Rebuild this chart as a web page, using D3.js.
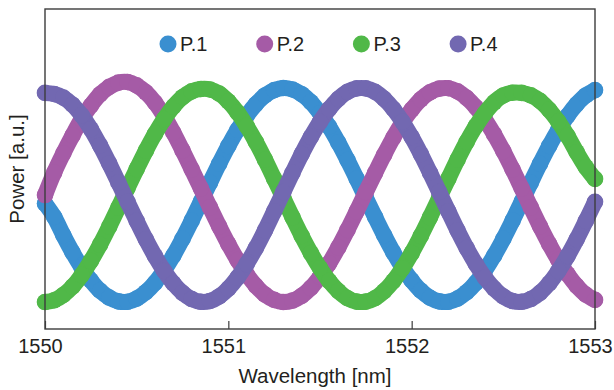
<!DOCTYPE html>
<html>
<head>
<meta charset="utf-8">
<script src="https://cdn.jsdelivr.net/npm/d3@7"></script>
<style>
    body{ margin: 0; background: #fff; }
    text{ font-family: "Liberation Sans", Arial, sans-serif; fill: #231f20; }
</style>
</head>
<body>
<div id="chart"></div>
<script>
const wavelength = [1550.00, 1550.05, 1550.10, 1550.15, 1550.20, 1550.25, 1550.30, 1550.35, 1550.40, 1550.45,
                    1550.50, 1550.55, 1550.60, 1550.65, 1550.70, 1550.75, 1550.80, 1550.85, 1550.90, 1550.95,
                    1551.00, 1551.05, 1551.10, 1551.15, 1551.20, 1551.25, 1551.30, 1551.35, 1551.40, 1551.45,
                    1551.50, 1551.55, 1551.60, 1551.65, 1551.70, 1551.75, 1551.80, 1551.85, 1551.90, 1551.95,
                    1552.00, 1552.05, 1552.10, 1552.15, 1552.20, 1552.25, 1552.30, 1552.35, 1552.40, 1552.45,
                    1552.50, 1552.55, 1552.60, 1552.65, 1552.70, 1552.75, 1552.80, 1552.85, 1552.90, 1552.95,
                    1553.00];

const p1 = [.460, .398, .312, .232, .161, .101, .053, .021, .003, .001, .016, .046, .090, .148, .217, .295, .380, .469, .558, .646,
            .729, .804, .870, .924, .965, .990, 1.000, .993, .971, .934, .882, .819, .745, .663, .576, .486, .398, .312, .232, .161,
            .101, .053, .020, .003, .001, .016, .046, .090, .148, .217, .295, .380, .469, .558, .646, .729, .804, .870, .924, .965,
            .990];
const p2 = [.500, .605, .695, .778, .855, .918, .970, 1.005, 1.025, 1.028, 1.012, .980, .932, .868, .792, .708, .620, .531, .442, .354,
            .271, .196, .130, .076, .035, .010, .000, .007, .029, .066, .118, .181, .255, .337, .424, .514, .602, .688, .768, .839,
            .899, .947, .980, .997, .999, .984, .954, .910, .852, .783, .705, .620, .531, .442, .354, .271, .196, .130, .076, .035,
            .010];
const p3 = [.000, .008, .033, .072, .126, .192, .268, .352, .441, .532, .621, .707, .786, .855, .913, .957, .984, .995, .993, .974,
            .937, .886, .822, .748, .665, .576, .486, .396, .309, .229, .158, .098, .051, .018, .002, .002, .018, .051, .098, .158,
            .229, .309, .396, .486, .576, .665, .748, .822, .884, .933, .965, .978, .977, .966, .940, .898, .843, .776, .700, .630,
            .575];
const p4 = [.977, .972, .955, .922, .872, .808, .732, .648, .559, .468, .379, .293, .214, .145, .087, .043, .014, .001, .005, .026,
            .063, .114, .178, .252, .335, .424, .514, .604, .691, .771, .842, .902, .949, .982, .998, .998, .982, .949, .902, .842,
            .771, .691, .604, .514, .424, .335, .252, .178, .114, .063, .026, .005, .001, .014, .043, .087, .145, .214, .293, .379,
            .468];

const seriesNames = ["P.1", "P.2", "P.3", "P.4"];
const seriesValues = [p1, p2, p3, p4];
const xTicks = [1550, 1551, 1552, 1553];

class WaveChart{
    constructor(parentSelector){
        this.parent = d3.select(parentSelector);
        this.wSvg = 614;
        this.hSvg = 390;
        this.margin = { top: 9, right: 19, bottom: 61, left: 45 };
        this.wViz = this.wSvg - this.margin.left - this.margin.right;
        this.hViz = this.hSvg - this.margin.top - this.margin.bottom;
        this.colors = ["#3a8fd0", "#a55ba6", "#50b848", "#7268b1"];
        this.init();
    }

    init(){
        this.svg = this.parent.append("svg")
            .attr("width", this.wSvg)
            .attr("height", this.hSvg);

        this.graphGroup = this.svg.append("g")
            .attr("transform", `translate(${this.margin.left}, ${this.margin.top})`);

        this.prepScales();
        this.renderSeries();
        this.renderFrame();
        this.renderLegend();
        this.renderTitles();
    }

    prepScales(){
        this.xScale = d3.scaleLinear()
            .domain([1550, 1553])
            .range([0, this.wViz]);

        this.yScale = d3.scaleLinear()
            .domain([-0.126, 1.369])
            .range([this.hViz, 0]);
    }

    renderSeries(){
        const line = d3.line()
            .x((d, i) => this.xScale(wavelength[i]))
            .y(d => this.yScale(d))
            .curve(d3.curveCatmullRom);

        seriesValues.forEach((values, s) => {
            const g = this.graphGroup.append("g").classed("series", true);
            g.append("path")
                .attr("d", line(values))
                .attr("fill", "none")
                .attr("stroke", this.colors[s])
                .attr("stroke-width", 16)
                .attr("stroke-linecap", "round")
                .attr("stroke-linejoin", "round");
            g.selectAll("circle")
                .data(values)
                .enter()
                .append("circle")
                    .attr("cx", (d, i) => this.xScale(wavelength[i]))
                    .attr("cy", d => this.yScale(d))
                    .attr("r", 8.3)
                    .attr("fill", this.colors[s]);
        });
    }

    renderFrame(){
        this.graphGroup.append("rect")
            .attr("width", this.wViz)
            .attr("height", this.hViz)
            .attr("fill", "none")
            .attr("stroke", "#3c3c3c")
            .attr("stroke-width", 1.4);

        const xAxis = this.graphGroup.append("g")
            .attr("transform", `translate(0, ${this.hViz})`)
            .call(d3.axisBottom(this.xScale).tickValues(xTicks).tickFormat(d3.format("d")).tickSize(-8).tickPadding(10));
        xAxis.select(".domain").remove();
        xAxis.selectAll("line").attr("stroke", "#3c3c3c").attr("stroke-width", 1.2);
        xAxis.selectAll("text")
            .attr("dx", -5)
            .attr("font-size", 20)
            .attr("font-family", "Liberation Sans, Arial, sans-serif")
            .attr("fill", "#231f20");
    }

    renderLegend(){
        const legend = this.svg.append("g")
            .selectAll("g")
            .data(seriesNames)
            .enter().append("g")
                .attr("transform", (d, i) => `translate(${168 + i * 96.7}, 44)`);
        legend.append("circle")
            .attr("r", 8.5)
            .attr("fill", (d, i) => this.colors[i]);
        legend.append("text")
            .attr("x", 12)
            .attr("y", 7)
            .attr("font-size", 20)
            .text(d => d);
    }

    renderTitles(){
        this.svg.append("text")
            .attr("x", 315)
            .attr("y", 383)
            .attr("text-anchor", "middle")
            .attr("font-size", 20.5)
            .text("Wavelength [nm]");

        this.svg.append("text")
            .attr("transform", `translate(24, 169) rotate(-90)`)
            .attr("text-anchor", "middle")
            .attr("font-size", 20.5)
            .text("Power [a.u.]");
    }
}

new WaveChart("#chart");
</script>
</body>
</html>
